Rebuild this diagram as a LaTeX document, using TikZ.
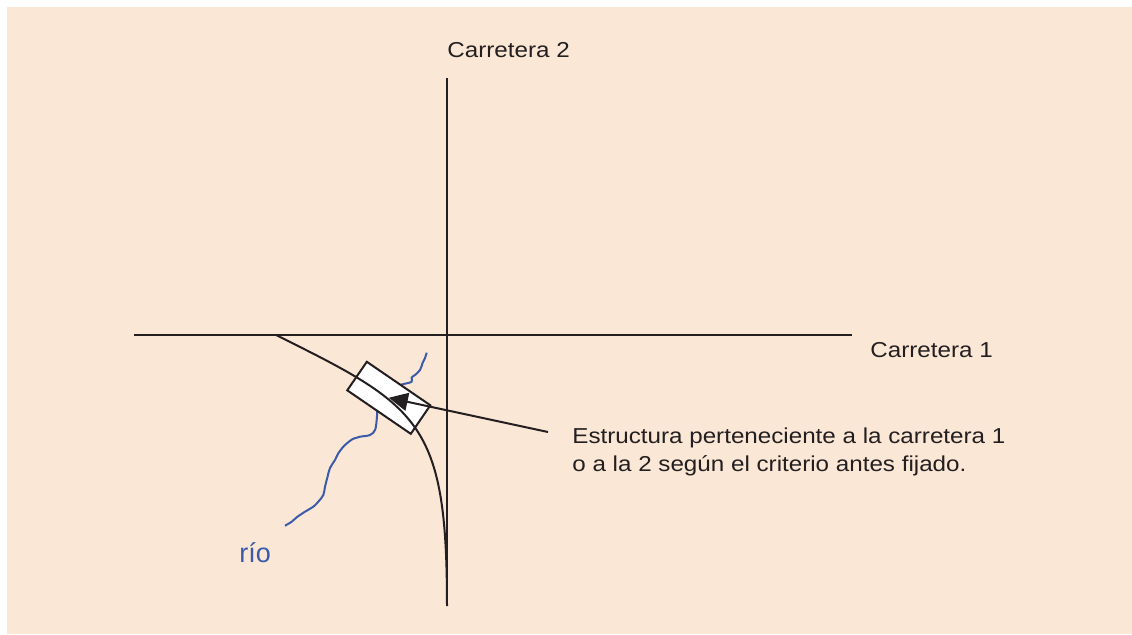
\documentclass[tikz,border=0pt]{standalone}
\usepackage{fontspec}
\setmainfont{Liberation Sans}[FakeStretch=1.12]
\newfontfamily\riofont{Liberation Sans}
\usetikzlibrary{arrows.meta}
\definecolor{fondo}{RGB}{251,231,214}
\definecolor{tinta}{RGB}{35,31,32}
\definecolor{azulrio}{RGB}{58,90,170}

\begin{document}
\begin{tikzpicture}[x=0.5pt,y=-0.5pt,
    carretera/.style={draw=tinta, line width=1pt},
    rotulo/.style={text=tinta, inner sep=0pt, font=\fontsize{10.8}{14}\selectfont}]
\useasboundingbox (0,0) rectangle (1132,634);
\fill[fondo] (7,7) rectangle (1132,634);
\coordinate (c1a) at (134,335);
\coordinate (c1b) at (852,335);
\coordinate (c2a) at (447,78);
\coordinate (c2b) at (447,606);
\coordinate (enlace) at (276,335);
\coordinate (inicio) at (548,432);
\draw[carretera] (c1a) -- (c1b);
\draw[carretera] (c2a) -- (c2b);
\draw[azulrio, line width=1pt] plot[smooth, tension=0.6] coordinates {(426.7,352.7) (425,358) (422.7,362.7) (420,370) (415,375) (411.7,377.5) (411.7,381.7) (406.7,383.3) (401.7,384.5) (395,388)};
\draw[azulrio, line width=1pt] plot[smooth, tension=0.6] coordinates {(378,404) (377.3,410.7) (376.7,420) (375,430) (370,435) (360,436.7) (353.3,438.7) (345,445) (338.3,453.3) (335,460) (330,468) (327.5,477) (325,486.7) (323.3,495) (318.3,501.7) (313.3,506.7) (305,511.7) (296.7,517.3) (291.7,521.7) (285,525.7)};
\node[draw=tinta, fill=white, line width=1pt, inner sep=0pt, outer sep=0pt,
    minimum width=38.5pt, minimum height=17.3pt, rotate=-34.4] (estructura) at (388.8,397.8) {};
\draw[carretera] (enlace) .. controls (419,406) and (447,421) .. (c2b);
\draw[carretera, -{Triangle[length=9.5pt, width=9pt]}] (inicio) -- (estructura.center);
\node[rotulo, anchor=base west] (carretera2) at (447,57.7) {Carretera 2};
\node[rotulo, anchor=base west] (carretera1) at (870,357) {Carretera 1};
\node[rotulo, anchor=north west, align=left] (nota) at (572,427) {Estructura perteneciente a la carretera 1\\o a la 2 según el criterio antes fijado.};
\node[text=azulrio, inner sep=0pt, anchor=base west, font=\riofont\fontsize{13.5}{16}\selectfont] (rio) at (239,562.5) {río};
\end{tikzpicture}
\end{document}
